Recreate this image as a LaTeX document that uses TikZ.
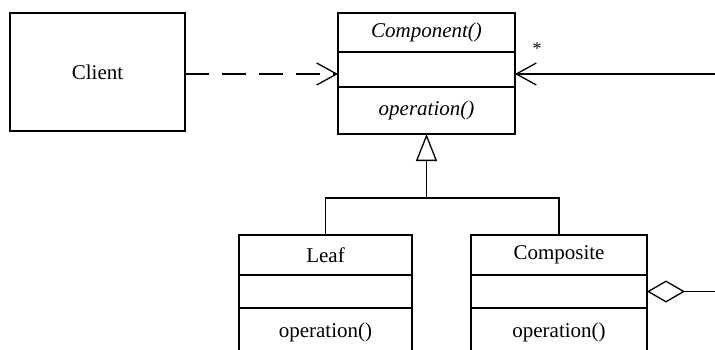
\documentclass[tikz,border=0pt]{standalone}
\usepackage{fontspec}
\setmainfont{Liberation Serif}
\usetikzlibrary{arrows.meta,positioning}
\begin{document}
\begin{tikzpicture}
  [x=1pt,y=-1pt,line width=1.3pt,
   every node/.style={draw,rectangle,inner sep=0pt,outer sep=0pt,font=\fontsize{21}{24}\selectfont},
   box/.style={anchor=north west,minimum width=#1},
   part/.style={below=0pt of #1},
   open/.style={-{Straight Barb[length=20pt,width=22pt]}},
   inherit/.style={-{Triangle[open,length=27pt,width=21pt]}},
   aggr/.style={-{Diamond[open,length=38pt,width=22pt]}}]

  \useasboundingbox (0,0) rectangle (715,349);
  \clip (0,0) rectangle (715,349);

  \node[box=175,minimum height=118] (client) at (10,13) {Client};

  \node[box=177,minimum height=39] (comp) at (338,13) {\itshape Component()};
  \node[minimum width=177,minimum height=35,part=comp] (compA) {};
  \node[minimum width=177,minimum height=47,part=compA] (compO) {\itshape operation()};

  \node[box=173,minimum height=40] (leaf) at (239,235) {Leaf};
  \node[minimum width=173,minimum height=33,part=leaf] (leafA) {};
  \node[minimum width=173,minimum height=48,part=leafA] (leafO) {operation()};

  \node[box=176,minimum height=40] (composite) at (471,235) {Composite};
  \node[minimum width=176,minimum height=33,part=composite] (compositeA) {};
  \node[minimum width=176,minimum height=48,part=compositeA] (compositeO) {operation()};

  \node[draw=none,font=\fontsize{18}{18}\selectfont] (mult) at (537,49) {*};

  \coordinate (rim) at (720,74);
  \coordinate (edge) at (720,0);
  \coordinate (split) at ([yshift=-64pt]compO.south);

  \draw[open,dashed,dash pattern=on 24pt off 13pt] (client.east |- rim) -- (rim -| compA.west);
  \draw[open] (rim) -- (rim -| compA.east);
  \draw (leaf.north) |- (split) -| (composite.north);
  \draw[inherit] (split) -- (compO.south);
  \draw[aggr] (compositeA.east -| edge) -- (compositeA.east);
\end{tikzpicture}
\end{document}
